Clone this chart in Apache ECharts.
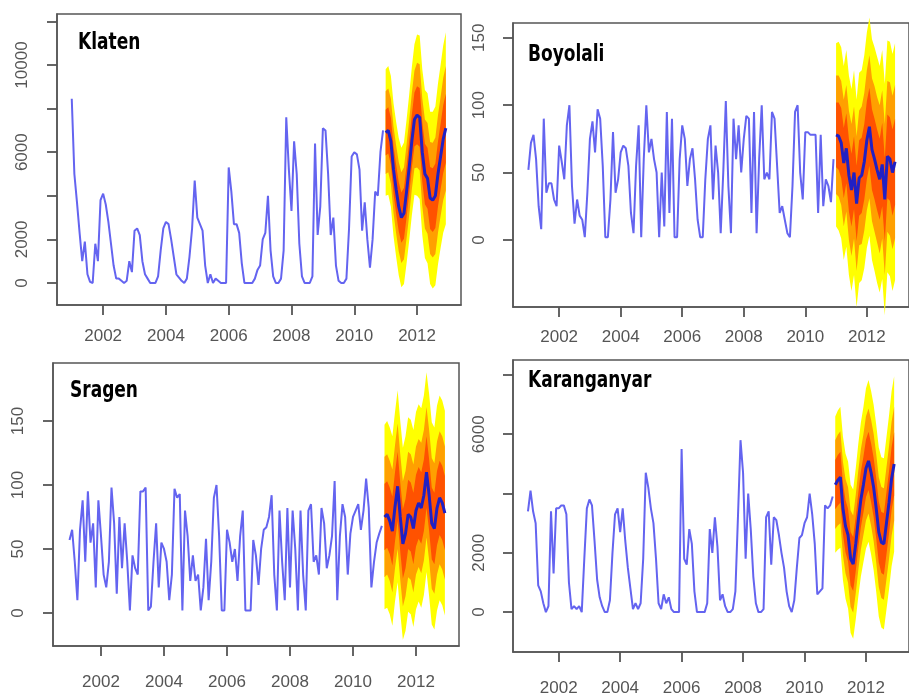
<!DOCTYPE html>
<html><head><meta charset="utf-8">
<script src="https://cdn.jsdelivr.net/npm/echarts@6/dist/echarts.min.js"></script>
<style>html,body{margin:0;padding:0;background:#fff}#c{width:909px;height:697px}</style>
</head><body><div id="c"></div><script>
// ---------- DATA (monthly, 2001-01 .. 2010-12 history; 2011-01 .. 2012-12 forecast) ----------
const histStart = 2001;
const fcStart = 2011;
const xTickYears = [2002, 2004, 2006, 2008, 2010, 2012];

const klatenHist = [
 8450,5000,3700,2300,1000,1900,400,50,0,1800,1000,3800,
 4100,3600,2800,1800,800,200,200,100,0,100,1000,500,
 2400,2500,2200,1000,400,200,0,0,0,300,1500,2500,
 2800,2700,2000,1200,400,250,100,0,200,1200,2500,4700,
 3000,2700,2400,800,0,400,0,200,100,0,0,0,
 5300,4200,2700,2700,2300,900,0,0,0,0,200,600,
 800,2000,2300,4000,1500,300,0,0,200,1500,7600,5200,
 3300,6500,5000,1800,300,0,0,0,300,6400,2200,3500,
 7100,7000,5000,2200,3000,800,100,0,0,200,2500,5800,
 6000,5900,5200,2400,3700,2000,700,2000,4200,4000,6000,7000];
const klatenMean = [6900,7000,6500,5200,4300,3500,3000,3200,4200,5300,6500,7500,
 7700,7600,6000,5000,4800,3900,3800,4000,5000,5800,6600,7100];
const klatenHw95 = [2900,2950,3000,3050,3100,3150,3200,3250,3300,3350,3400,3450,3700,3750,3800,3850,3900,3950,4050,4100,4150,4200,4300,4400];
const klatenHw80 = [1900,1920,1950,1980,2020,2050,2080,2110,2150,2180,2210,2240,2400,2440,2470,2500,2540,2570,2630,2670,2700,2730,2800,2860];
const klatenHw50 = [1050,1060,1080,1100,1120,1130,1150,1170,1190,1210,1220,1240,1330,1350,1370,1390,1400,1420,1460,1480,1490,1510,1550,1580];

const boyolaliHist = [
 52,72,78,60,25,8,90,35,42,42,30,25,
 70,58,45,85,100,40,12,30,18,15,2,35,
 75,88,65,97,90,55,2,2,30,80,35,45,
 65,70,68,55,20,5,55,85,2,60,100,65,
 75,60,50,2,50,10,95,20,90,2,2,60,
 85,75,40,60,68,45,15,2,2,45,75,85,
 30,70,50,5,50,103,40,5,90,60,85,50,
 75,92,90,20,95,5,60,100,45,50,45,95,
 90,55,20,25,15,5,2,40,95,100,50,30,
 80,80,78,78,78,20,78,25,45,40,28,60];
const boyolaliMean = [78,77,72,57,68,48,37,50,27,46,48,58,74,84,67,60,52,45,56,30,62,60,50,58];
const boyolaliHw95 = [68,70,71,72,73,74,75,76,77,78,78,79,80,81,82,83,84,84,85,86,86,87,88,88];
const boyolaliHw80 = [44,45,46,47,47,48,49,49,50,50,51,51,52,53,53,54,54,55,55,56,56,57,57,57];
const boyolaliHw50 = [24,25,26,26,26,27,27,27,28,28,28,28,29,29,30,30,30,30,31,31,31,31,32,32];

const sragenHist = [
 57,65,40,10,65,88,40,95,55,70,20,88,
 60,30,20,40,98,70,15,75,35,70,40,2,
 45,35,30,95,95,98,2,5,40,70,20,55,
 50,40,10,30,97,90,93,2,80,60,25,45,
 25,30,2,20,58,10,40,90,100,60,2,2,
 65,55,40,50,25,60,80,2,2,2,57,45,
 22,50,65,67,75,92,30,2,80,40,10,82,
 20,80,50,2,80,30,2,80,85,40,45,30,
 82,70,35,45,60,103,10,60,85,75,30,62,
 75,80,85,65,80,105,82,20,40,55,62,68];
const sragenMean = [75,77,72,64,83,99,75,54,62,77,75,66,80,86,82,92,110,92,70,66,82,90,86,78];
const sragenHw95 = [72,73,73,74,74,75,75,75,76,76,76,77,77,77,78,78,78,79,79,79,80,80,80,80];
const sragenHw80 = [47,47,47,48,48,49,49,49,49,49,49,50,50,50,51,51,51,51,51,51,52,52,52,52];
const sragenHw50 = [26,26,26,27,27,27,27,27,27,27,27,28,28,28,28,28,28,28,28,28,29,29,29,29];

const karanganyarHist = [
 3400,4100,3400,3000,900,700,300,0,200,3400,1300,3500,
 3500,3600,3600,3300,1000,100,200,100,200,0,1800,3500,
 3800,3600,2400,1100,500,200,0,0,400,2000,3300,3500,
 2700,3500,2400,1500,800,100,300,100,300,1800,4700,4200,
 3500,3000,1800,300,100,600,300,500,100,0,0,0,
 5500,1800,1600,2800,2300,700,0,0,0,0,300,2800,
 2000,3200,2200,400,600,200,0,0,100,700,3200,5800,
 4700,1800,4000,2800,1200,300,0,0,100,3200,3400,1600,
 3200,3100,2600,2000,1500,700,200,0,400,1500,2500,2600,
 3000,3200,4000,3300,2300,600,700,800,3600,3500,3600,3900];
const karanganyarMean = [4300,4450,4550,3500,2900,2600,1800,1620,2300,3100,3800,4300,
 4850,5100,4700,4200,3500,2700,2350,2300,3000,3700,4500,5000];
const karanganyarHw95 = [2300,2350,2380,2420,2450,2480,2500,2520,2550,2580,2600,2620,2700,2730,2760,2790,2820,2850,2870,2890,2910,2930,2950,2960];
const karanganyarHw80 = [1500,1530,1550,1570,1590,1610,1630,1640,1660,1680,1690,1700,1760,1770,1790,1810,1830,1850,1870,1880,1890,1900,1920,1920];
const karanganyarHw50 = [830,850,860,870,880,890,900,910,920,930,940,940,970,980,990,1000,1020,1030,1030,1040,1050,1050,1060,1070];

const names = ['Klaten', 'Boyolali', 'Sragen', 'Karanganyar'];

// ---------- LAYOUT / STYLE ----------
const panels = [
 {name:names[0], hist:klatenHist, mean:klatenMean, hw:[klatenHw95,klatenHw80,klatenHw50],
  grid:{left:57, top:14, width:404, height:291}, xr:[2000.53,2013.40], yr:[-1010,12340],
  yTicks:[0,2000,4000,6000,8000,10000,12000], yLabels:[0,2000,6000,10000], yMargin:26, xMargin:23,
  title:{x:78, y:32}},
 {name:names[1], hist:boyolaliHist, mean:boyolaliMean, hw:[boyolaliHw95,boyolaliHw80,boyolaliHw50],
  grid:{left:513, top:23, width:404, height:284}, xr:[2000.50,2013.37], yr:[-49.8,161],
  yTicks:[0,50,100,150], yLabels:[0,50,100,150], yMargin:25, xMargin:22,
  title:{x:528, y:44}},
 {name:names[2], hist:sragenHist, mean:sragenMean, hw:[sragenHw95,sragenHw80,sragenHw50],
  grid:{left:53, top:363, width:406, height:283}, xr:[2000.476,2013.365], yr:[-25.8,195.3],
  yTicks:[0,50,100,150], yLabels:[0,50,100,150], yMargin:26, xMargin:28,
  title:{x:70, y:380}},
 {name:names[3], hist:karanganyarHist, mean:karanganyarMean, hw:[karanganyarHw95,karanganyarHw80,karanganyarHw50],
  grid:{left:513, top:360, width:407, height:293}, xr:[2000.513,2013.40], yr:[-1345,8504],
  yTicks:[0,2000,4000,6000,8000], yLabels:[0,2000,6000], yMargin:25, xMargin:28,
  title:{x:528, y:370}}
];
const bandColors = ['#FFFF00', '#FFA000', '#FF5200'];
const gray = '#555555';
const tickLenPx = 10;
const axisFont = {fontFamily:'Liberation Sans, Arial, sans-serif', fontSize:17, color:'#555'};

const grids=[], xAxes=[], yAxes=[], series=[], graphics=[];
panels.forEach((p, i) => {
  grids.push(Object.assign({show:true, borderColor:gray, borderWidth:1.5, containLabel:false}, p.grid));
  xAxes.push({type:'value', gridIndex:i, min:p.xr[0], max:p.xr[1], position:'bottom',
    axisLine:{show:true, onZero:false, lineStyle:{color:gray, width:1.5}}, splitLine:{show:false},
    axisTick:{show:true, inside:false, length:tickLenPx, lineStyle:{color:gray, width:1.8}, customValues:xTickYears},
    axisLabel:Object.assign({show:true, margin:p.xMargin, customValues:xTickYears, formatter:v=>String(v)}, axisFont)});
  yAxes.push({type:'value', gridIndex:i, min:p.yr[0], max:p.yr[1], position:'left',
    axisLine:{show:true, onZero:false, lineStyle:{color:gray, width:1.5}}, splitLine:{show:false},
    axisTick:{show:true, inside:false, length:tickLenPx, lineStyle:{color:gray, width:1.8}, customValues:p.yTicks},
    axisLabel:Object.assign({show:true, rotate:90, margin:p.yMargin, customValues:p.yLabels, formatter:v=>String(v)}, axisFont)});
  graphics.push({type:'text', x:p.title.x, y:p.title.y, scaleX:0.74, z:100,
    style:{text:p.name, fill:'#000', font:'bold 23px "DejaVu Sans", sans-serif', textVerticalAlign:'top'}});

  const hx = p.hist.map((_, k) => histStart + k/12);
  const fx = p.mean.map((_, k) => fcStart + k/12);
  p.hw.forEach((hw, L) => {
    const lo = p.mean.map((m, k) => m - hw[k]);
    const hi = p.mean.map((m, k) => m + hw[k]);
    series.push({type:'custom', coordinateSystem:'cartesian2d', xAxisIndex:i, yAxisIndex:i, silent:true,
      data: fx.map((x, k) => [x, lo[k], hi[k]]), encode:{x:0, y:[1,2]},
      renderItem: (params, api) => {
        if (params.dataIndex !== 0) return null;
        const pts = [];
        for (let k = 0; k < fx.length; k++) pts.push(api.coord([fx[k], hi[k]]));
        for (let k = fx.length-1; k >= 0; k--) pts.push(api.coord([fx[k], lo[k]]));
        return {type:'polygon', shape:{points:pts}, style:{fill:bandColors[L], stroke:null}};
      }});
  });
  series.push({type:'line', xAxisIndex:i, yAxisIndex:i, data:hx.map((x,k)=>[x,p.hist[k]]),
    showSymbol:false, symbol:'none', lineStyle:{color:'#6464f0', width:2}, silent:true});
  series.push({type:'line', xAxisIndex:i, yAxisIndex:i, data:fx.map((x,k)=>[x,p.mean[k]]),
    showSymbol:false, symbol:'none', lineStyle:{color:'#2020c4', width:3}, silent:true});

  // y-axis tick marks as short unclipped segments left of the plot box (through the axis scales)
  const dx = tickLenPx * (p.xr[1] - p.xr[0]) / p.grid.width;
  p.yTicks.forEach(v => {
    series.push({type:'line', xAxisIndex:i, yAxisIndex:i, clip:false, silent:true, z:5,
      data:[[p.xr[0] - dx, v], [p.xr[0], v]], showSymbol:false, symbol:'none',
      lineStyle:{color:gray, width:2}, emphasis:{disabled:true}});
  });
});

const chart = echarts.init(document.getElementById('c'), null, {renderer:'canvas'});
chart.setOption({animation:false, backgroundColor:'#fff', grid:grids, xAxis:xAxes, yAxis:yAxes, series:series, graphic:graphics});
</script></body></html>
